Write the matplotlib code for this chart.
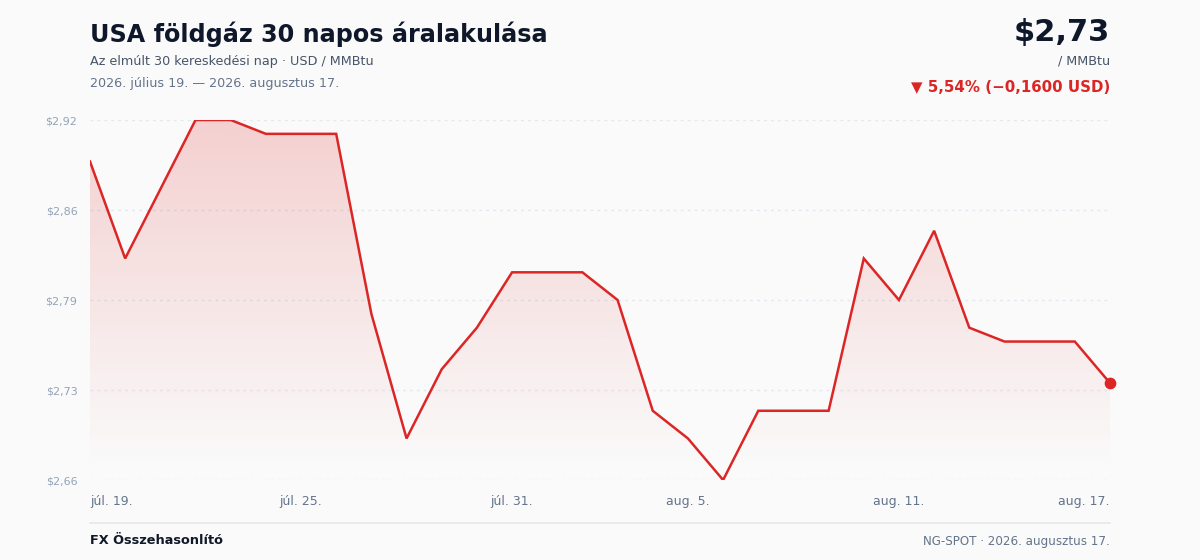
import matplotlib

matplotlib.use("Agg")
import matplotlib.pyplot as plt
import numpy as np
from matplotlib.patches import Polygon

prices = [2.89, 2.82, 2.87, 2.92, 2.92, 2.91, 2.91, 2.91, 2.78, 2.69,
          2.74, 2.77, 2.81, 2.81, 2.81, 2.79, 2.71, 2.69, 2.66, 2.71,
          2.71, 2.71, 2.82, 2.79, 2.84, 2.77, 2.76, 2.76, 2.76, 2.73]
tick_idx = [0, 6, 12, 17, 23, 29]
tick_labels = ["júl. 19.", "júl. 25.", "júl. 31.", "aug. 5.", "aug. 11.", "aug. 17."]

RED = "#dc2626"
BG = "#fafafa"


def money(v):
    return f"${v + 1e-9:.2f}".replace(".", ",")


x = np.arange(len(prices))
y = np.array(prices)
lo, hi = y.min(), y.max()

fig = plt.figure(figsize=(12, 5.6), dpi=100, facecolor=BG)
ax = fig.add_axes([0.075, 1 - 480 / 560, 0.85, 360 / 560])
ax.set_facecolor(BG)
ax.set_xlim(0, len(prices) - 1)
ax.set_ylim(lo, hi)

# gradient fill under the line
grad = np.linspace(0.0, 1.0, 256).reshape(-1, 1)
alpha = np.clip((grad - 0.03) / 0.97, 0, 1) * 0.2
rgba = np.zeros((256, 1, 4))
rgba[..., :3] = matplotlib.colors.to_rgb(RED)
rgba[..., 3] = alpha
img = ax.imshow(rgba, extent=[0, len(prices) - 1, lo, hi], origin="lower",
                aspect="auto", zorder=1)
poly = Polygon(np.column_stack([np.r_[x, x[-1], x[0]], np.r_[y, lo, lo]]),
               closed=True, facecolor="none", edgecolor="none")
ax.add_patch(poly)
img.set_clip_path(poly)

yt = np.linspace(lo, hi, 5)
for v in yt:
    ax.axhline(v, color="#e2e8f0", lw=1, ls=(0, (2, 3)), zorder=0)

ax.plot(x, y, color=RED, lw=1.8, zorder=3, solid_joinstyle="miter")
ax.scatter([x[-1]], [y[-1]], s=55, color=RED, zorder=4, clip_on=False)

ax.set_yticks(yt)
ax.set_yticklabels([money(v) for v in yt], fontsize=8, color="#94a3b8")
ax.set_xticks(tick_idx)
ax.set_xticklabels(tick_labels, fontsize=9, color="#64748b")
labs = ax.get_xticklabels()
labs[0].set_ha("left")
labs[-1].set_ha("right")
ax.tick_params(length=0, axis="y", pad=9)
ax.tick_params(length=0, axis="x", pad=11)
for s in ax.spines.values():
    s.set_visible(False)

# header
fig.text(90 / 1200, 1 - 34 / 560, "USA földgáz 30 napos áralakulása",
         fontsize=17.2, fontweight="bold", color="#0f172a", va="center")
fig.text(90 / 1200, 1 - 61 / 560, "Az elmúlt 30 kereskedési nap · USD / MMBtu",
         fontsize=9.2, color="#475569", va="center")
fig.text(90 / 1200, 1 - 83 / 560, "2026. július 19. — 2026. augusztus 17.",
         fontsize=9.2, color="#64748b", va="center")

change = y[-1] - y[0]
pct = change / y[0] * 100
fig.text(1110 / 1200, 1 - 33 / 560, money(y[-1]),
         fontsize=22, fontweight="bold", color="#0f172a", ha="right", va="center")
fig.text(1110 / 1200, 1 - 61 / 560, "/ MMBtu",
         fontsize=9.2, color="#475569", ha="right", va="center")
fig.text(1110 / 1200, 1 - 87 / 560,
         f"▼ {abs(pct):.2f}% (−{abs(change):.4f} USD)".replace(".", ","),
         fontsize=10.8, fontweight="bold", color=RED, ha="right", va="center")

# footer
fig.add_artist(plt.Line2D([90 / 1200, 1110 / 1200], [1 - 523 / 560] * 2,
                          color="#e5e7eb", lw=1.2, transform=fig.transFigure))
fig.text(90 / 1200, 1 - 541 / 560, "FX Összehasonlító",
         fontsize=9.3, fontweight="bold", color="#111827", va="center")
fig.text(1110 / 1200, 1 - 541 / 560, "NG-SPOT · 2026. augusztus 17.",
         fontsize=8.6, color="#64748b", ha="right", va="center")

fig.savefig("out.png", dpi=100, facecolor=BG)
plt.close(fig)
